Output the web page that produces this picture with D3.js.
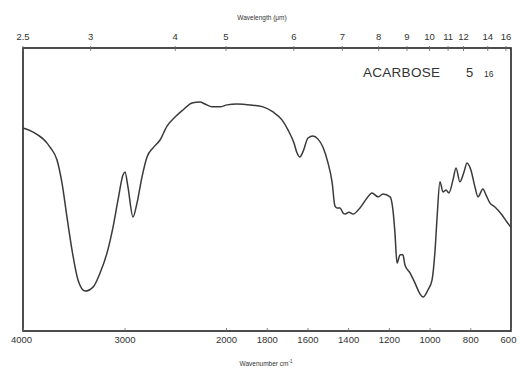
<!DOCTYPE html>
<html>
<head>
<meta charset="utf-8">
<script src="https://cdn.jsdelivr.net/npm/d3@7"></script>
<style>
  html, body { margin: 0; padding: 0; background: #fff; }
  svg { display: block; }
  text { font-family: "Liberation Sans", Arial, sans-serif; fill: #333; }
</style>
</head>
<body>
<svg id="chart" width="519" height="369"></svg>
<script>
// IR spectrum of acarbose: wavenumber (cm-1) and % transmittance
const wavenumbers = [4000, 3900, 3734, 3665, 3616, 3567, 3517, 3458, 3389, 3310,
  3241, 3172, 3113, 3064, 3015, 2995, 2966, 2916, 2877, 2828,
  2778, 2719, 2650, 2581, 2502, 2424, 2335, 2256, 2207, 2138,
  2059, 1995, 1946, 1882, 1818, 1769, 1725, 1695, 1666, 1651,
  1637, 1622, 1597, 1573, 1548, 1524, 1499, 1479, 1465, 1455,
  1440, 1425, 1415, 1396, 1376, 1342, 1307, 1283, 1253, 1229,
  1194, 1180, 1170, 1160, 1145, 1131, 1121, 1096, 1072, 1047,
  1032, 1008, 988, 973, 963, 949, 934, 919, 905, 885,
  870, 851, 831, 816, 797, 777, 762, 738, 723, 703,
  679, 644, 620, 600];
const transmittance = [71.7, 70.3, 65.0, 60.4, 52.3, 40.3, 28.6, 18.0, 14.1, 15.5,
  20.5, 27.6, 36.7, 46.3, 55.1, 56.2, 50.9, 40.3, 45.2, 54.4,
  61.5, 64.7, 67.5, 72.4, 75.6, 78.1, 80.6, 80.9, 80.2, 79.2,
  79.2, 79.9, 80.2, 79.9, 79.2, 77.4, 74.6, 71.0, 66.4, 62.9,
  61.5, 63.3, 68.2, 68.9, 67.8, 65.0, 59.4, 52.7, 44.2, 43.5,
  43.5, 41.7, 41.3, 42.0, 41.3, 43.5, 47.0, 48.8, 47.4, 48.4,
  47.4, 42.8, 34.6, 24.0, 26.9, 26.9, 23.3, 20.5, 17.0, 13.1,
  12.0, 14.5, 18.0, 28.6, 40.3, 52.7, 49.1, 49.8, 48.8, 53.4,
  57.6, 52.7, 56.2, 59.4, 56.9, 50.9, 47.4, 50.2, 48.1, 45.2,
  43.8, 41.0, 38.5, 36.7];

// Bottom axis: wavenumber labels
const wavenumberTicks = [4000, 3000, 2000, 1800, 1600, 1400, 1200, 1000, 800, 600];
// Top axis: wavelength labels in micrometres
const wavelengthTicks = [2.5, 3, 4, 5, 6, 7, 8, 9, 10, 11, 12, 14, 16];
const wavelengthLabels = ["2.5", "3", "4", "5", "6", "7", "8", "9", "10", "11", "12", "14", "16"];

const svg = d3.select("#chart");
const plotLeft = 23, plotRight = 511, plotTop = 48, plotBottom = 331;

// Scale change at 2000 cm-1: the low-wavenumber half is expanded two-fold
const x = d3.scaleLinear().domain([4000, 2000, 600]).range([plotLeft, 226, plotRight]);
const y = d3.scaleLinear().domain([0, 100]).range([plotBottom, plotTop]);

// Frame
svg.append("rect")
  .attr("x", plotLeft).attr("y", plotTop)
  .attr("width", plotRight - plotLeft).attr("height", plotBottom - plotTop)
  .attr("fill", "none").attr("stroke", "#222").attr("stroke-width", 1.6);

// Bottom axis
const bottomAxis = d3.axisBottom(x)
  .tickValues(wavenumberTicks)
  .tickSize(-3)
  .tickPadding(5)
  .tickFormat(d3.format("d"));
const gb = svg.append("g").attr("transform", `translate(0,${plotBottom})`).call(bottomAxis);
gb.select(".domain").remove();
gb.selectAll(".tick line").attr("stroke", "#666").attr("stroke-width", 0.8);
gb.selectAll(".tick text")
  .attr("font-size", 9.5)
  .attr("font-family", "Liberation Sans, Arial, sans-serif")
  .attr("fill", "#333");
// End labels sit slightly inside the frame corners
gb.selectAll(".tick text")
  .attr("dx", d => d === 4000 ? -2 : (d === 600 ? -3 : 0));

// Top axis in wavelength (um): position = x(10000 / um)
const gt = svg.append("g").attr("transform", `translate(0,${plotTop})`);
const topTicks = gt.selectAll("g.tk")
  .data(wavelengthTicks)
  .join("g")
  .attr("class", "tk")
  .attr("transform", d => `translate(${x(10000 / d)},0)`);
topTicks.append("line")
  .attr("y1", -2).attr("y2", 3)
  .attr("stroke", "#666").attr("stroke-width", 0.8);
topTicks.append("text")
  .attr("y", -8)
  .attr("text-anchor", "middle")
  .attr("font-size", 9.5)
  .text((d, i) => wavelengthLabels[i]);

// Axis titles
svg.append("text")
  .attr("x", 262).attr("y", 20)
  .attr("text-anchor", "middle")
  .attr("font-size", 6.5)
  .text("Wavelength (μm)");
const xt = svg.append("text")
  .attr("x", 266).attr("y", 366)
  .attr("text-anchor", "middle")
  .attr("font-size", 6.5);
xt.append("tspan").text("Wavenumber   cm");
xt.append("tspan").attr("dy", -3).attr("font-size", 4.5).text("-1");

// Compound name and reference number
svg.append("text")
  .attr("x", 363).attr("y", 77)
  .attr("font-size", 13.5)
  .attr("textLength", 77)
  .text("ACARBOSE");
svg.append("text")
  .attr("x", 466).attr("y", 77)
  .attr("font-size", 13)
  .text("5");
svg.append("text")
  .attr("x", 484).attr("y", 77)
  .attr("font-size", 8.5)
  .text("16");

// Spectrum trace
const pts = wavenumbers.map((w, i) => [w, transmittance[i]]);
const line = d3.line()
  .x(d => x(d[0]))
  .y(d => y(d[1]))
  .curve(d3.curveMonotoneX);
svg.append("path")
  .datum(pts)
  .attr("d", line)
  .attr("fill", "none")
  .attr("stroke", "#3a3a3a")
  .attr("stroke-width", 1.5)
  .attr("stroke-linejoin", "round");
</script>
</body>
</html>
